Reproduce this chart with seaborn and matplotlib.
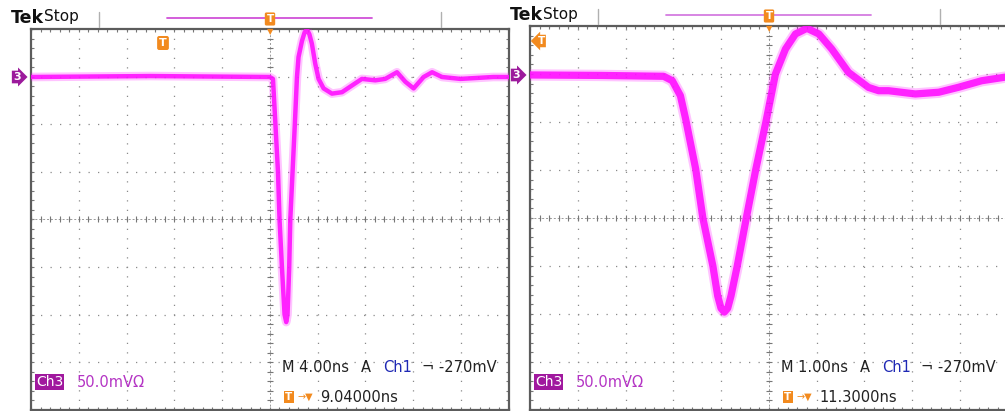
import numpy as np
import pandas as pd
import matplotlib
matplotlib.use("Agg")
import matplotlib.pyplot as plt
import seaborn as sns

# Captura izquierda: 4 ns/div, 50 mV/div (tiempo en ns, tension en mV respecto a la marca de tierra)
left_t = [-20.0, -10.0, 0.0, 0.27, 0.69, 0.82, 1.02, 1.24, 1.38, 1.49, 1.63, 1.72, 1.91,
          2.10, 2.28, 2.41, 2.70, 2.92, 3.12, 3.32, 3.53, 3.81, 4.09, 4.51, 5.21, 6.05,
          6.88, 7.72, 8.84, 9.67, 10.66, 11.36, 12.05, 12.89, 13.60, 14.43, 15.97,
          18.73, 20.0]
left_mv = [0, 1, 0, -2, -100, -150, -200, -250, -258, -250, -200, -150, -100,
           -50, 0, 21, 38, 47, 50, 45, 35, 14, -2, -12, -17.5, -16,
           -9, -2, -3.5, -2, 5, -5, -12, 0, 5, 0, -2,
           0, 0]

# Captura derecha: 1 ns/div, 50 mV/div
right_t = [-5.0, -3.5, -2.20, -2.02, -1.85, -1.74, -1.53, -1.38, -1.17, -1.07, -1.00,
           -0.93, -0.86, -0.79, -0.66, -0.47, -0.27, -0.06, 0.14, 0.35, 0.56, 0.80,
           1.05, 1.32, 1.67, 2.09, 2.30, 2.51, 3.07, 3.56, 3.97, 4.46, 4.92, 5.1]
right_mv = [-1, -1.5, -2.4, -7, -22.6, -47, -99, -150, -200, -231, -244,
            -248, -244, -231, -200, -150, -99, -50, 0, 26, 41.7, 47.6,
            41.7, 26, 1.7, -14, -17.4, -17.4, -20.8, -19, -13.9, -7, -3.5, -2.5]

# Textos de la pantalla del osciloscopio
timebase = ["M 4.00ns", "M 1.00ns"]
trig_pos = ["9.04000ns", "11.3000ns"]
scale_txt = "50.0mV\u03a9"
trig_level = "\u00ac -270mV"

W, H = 1005, 411
TRACE = "#ff10ff"
ORANGE = "#f28a1e"
PURPLE = "#9c1a9c"

sns.set_theme(style="white")
plt.rcParams["font.family"] = ["DejaVu Sans"]

fig = plt.figure(figsize=(W / 100, H / 100), dpi=100)
fig.patch.set_facecolor("white")


def fx(x):
    return x / W


def fy(y):
    return 1 - y / H


def screen(ax, tdiv, t, mv, band):
    ax.set_xlim(-5 * tdiv, 5 * tdiv)
    ax.set_ylim(-350, 50)
    ax.set_facecolor("white")
    ax.set_xticks(np.arange(-5, 6) * tdiv)
    ax.set_yticks(np.arange(-350, 51, 50))
    ax.set_xticks(np.arange(-25, 26) * tdiv / 5, minor=True)
    ax.set_yticks(np.arange(-350, 51, 10), minor=True)
    ax.set_xticklabels([])
    ax.set_yticklabels([])
    ax.tick_params(which="both", direction="in", top=True, right=True, bottom=True, left=True,
                   length=2.5, width=0.8, color="#777777")
    ax.grid(which="major", color="#8a8a8a", linestyle=(0, (1, 6.6)), linewidth=0.9)
    for s in ax.spines.values():
        s.set_color("#5c5c5c")
        s.set_linewidth(1.6)
    # ejes centrales con marcas
    ax.axhline(-150, color="#999999", lw=0.7, ls=(0, (2, 2)), zorder=1)
    ax.axvline(0, color="#999999", lw=0.7, ls=(0, (2, 2)), zorder=1)
    mx = np.arange(-25, 26) * tdiv / 5
    my = np.arange(-350, 51, 10)
    ax.plot(mx, np.full(len(mx), -150), ls="none", marker="|", ms=4, mew=0.8, color="#777777", zorder=1)
    ax.plot(np.zeros(len(my)), my, ls="none", marker="_", ms=4, mew=0.8, color="#777777", zorder=1)

    df = pd.DataFrame({"t": t, "mv": mv})
    lw = 5.2 if band else 3.2
    sns.lineplot(data=df, x="t", y="mv", ax=ax, color=TRACE, lw=lw + 3, alpha=0.25,
                 estimator=None, sort=False, zorder=3)
    sns.lineplot(data=df, x="t", y="mv", ax=ax, color=TRACE, lw=lw, alpha=0.9,
                 estimator=None, sort=False, zorder=4)
    ax.set_xlabel("")
    ax.set_ylabel("")


ax1 = fig.add_axes([fx(31), fy(409.5), 477.5 / W, 380 / H])
ax2 = fig.add_axes([fx(530), fy(410), 477.5 / W, 384 / H])
screen(ax1, 4.0, left_t, left_mv, False)
screen(ax2, 1.0, right_t, right_mv, True)

# cabeceras y marcadores
for i, (x0, ytop, gy) in enumerate([(0, 18, 77), (499, 15, 75)]):
    fig.text(fx(11 + x0), fy(ytop), "Tek", fontsize=12.5, fontweight="bold", color="#111111",
             va="center", ha="left")
    fig.text(fx(44 + x0), fy(ytop - 1), "Stop", fontsize=11, color="#111111", va="center", ha="left")
    for sx in (99 + x0, 441 + x0):
        fig.add_artist(plt.Line2D([fx(sx), fx(sx)], [fy(12 + ytop - 18), fy(27 + ytop - 18)],
                                  color="#b0b0b0", lw=1.0))
    fig.add_artist(plt.Line2D([fx(167 + x0), fx(372 + x0)], [fy(ytop), fy(ytop)],
                              color="#d050d8" if i == 0 else "#d47ce0", lw=1.3))
    fig.text(fx(270 + x0), fy(ytop + 1), "T", fontsize=7.5, fontweight="bold", color="white",
             ha="center", va="center",
             bbox=dict(boxstyle="round,pad=0.15", fc=ORANGE, ec="none"))
    fig.text(fx(270 + x0), fy(32 + (ytop - 18)), "\u25bc", fontsize=6, color=ORANGE,
             ha="center", va="center")
    # marca de tierra del canal 3
    fig.text(fx(17 + x0), fy(gy), "3", fontsize=8, fontweight="bold", color="white",
             ha="center", va="center",
             bbox=dict(boxstyle="rarrow,pad=0.12", fc=PURPLE, ec="none"))
    # lectura inferior
    fig.text(fx(36 + x0), fy(382), "Ch3", fontsize=10, color="white", ha="left", va="center",
             bbox=dict(boxstyle="square,pad=0.08", fc="#a0189e", ec="none"))
    fig.text(fx(77 + x0), fy(382), scale_txt, fontsize=10.5, color="#b434c4",
             ha="left", va="center")
    fig.text(fx(282 + x0), fy(367), timebase[i], fontsize=10.5, color="#222222",
             ha="left", va="center")
    fig.text(fx(361 + x0), fy(367), "A", fontsize=10.5, color="#222222", ha="left", va="center")
    fig.text(fx(383 + x0), fy(367), "Ch1", fontsize=10.5, color="#1e28b4", ha="left", va="center")
    fig.text(fx(422 + x0), fy(367), trig_level, fontsize=10.5, color="#222222",
             ha="left", va="center")
    fig.text(fx(285 + x0), fy(397), "T", fontsize=7.5, fontweight="bold", color="white",
             ha="left", va="center",
             bbox=dict(boxstyle="square,pad=0.12", fc=ORANGE, ec="none"))
    fig.text(fx(297 + x0), fy(397), "\u2192\u25bc", fontsize=7, color=ORANGE,
             ha="left", va="center")
    fig.text(fx(320 + x0), fy(397), trig_pos[i], fontsize=10.5, color="#222222",
             ha="left", va="center")

# marcadores de disparo dentro de la pantalla
fig.text(fx(163), fy(43), "T", fontsize=8, fontweight="bold", color="white", ha="center",
         va="center", bbox=dict(boxstyle="round,pad=0.18", fc=ORANGE, ec="none"))
fig.text(fx(541), fy(41), "T", fontsize=7.5, fontweight="bold", color="white", ha="center",
         va="center", bbox=dict(boxstyle="larrow,pad=0.12", fc=ORANGE, ec="none"))

fig.savefig("out.png", dpi=100, facecolor="white")
